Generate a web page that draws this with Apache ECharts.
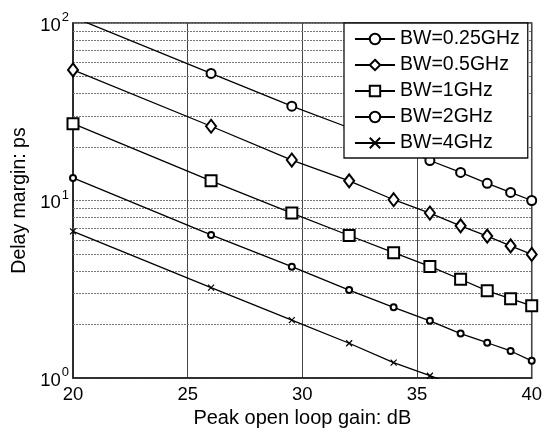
<!DOCTYPE html>
<html>
<head>
<meta charset="utf-8">
<script src="https://cdn.jsdelivr.net/npm/echarts@6/dist/echarts.min.js"></script>
<style>html,body{margin:0;padding:0;background:#fff;}#c{width:545px;height:437px;}</style>
</head>
<body>
<div id="c"></div>
<script>
// Data
var gainDb = [20, 26.02, 29.54, 32.04, 33.98, 35.56, 36.90, 38.06, 39.08, 40];
var seriesNames = ['BW=0.25GHz', 'BW=0.5GHz', 'BW=1GHz', 'BW=2GHz', 'BW=4GHz'];
var bw025 = [108, 52, 34, 25.7, 20.3, 16.8, 14.4, 12.5, 11.1, 10.0];
var bw05  = [54.4, 26.2, 16.9, 12.9, 10.1, 8.5, 7.2, 6.3, 5.55, 4.97];
var bw1   = [27.1, 12.9, 8.5, 6.35, 5.08, 4.25, 3.6, 3.1, 2.8, 2.55];
var bw2   = [13.4, 6.4, 4.24, 3.13, 2.5, 2.1, 1.78, 1.58, 1.42, 1.25];
var bw4   = [6.7, 3.23, 2.12, 1.57, 1.22, 1.03, 0.89, 0.79, 0.71, 0.63];
var minorGrid = [2, 3, 4, 5, 6, 7, 8, 9, 20, 30, 40, 50, 60, 70, 80, 90];
var xTicks = [20, 25, 30, 35, 40];

var FONT = 'Liberation Sans';
function pairs(ys) { return gainDb.map(function (x, i) { return [x, ys[i]]; }); }

var symbols = [
  {symbol: 'emptyCircle', size: 9},
  {symbol: 'emptyDiamond', size: [10, 13]},
  {symbol: 'emptyRect', size: 11},
  {symbol: 'emptyCircle', size: 6},
  {symbol: 'path://M0,0L10,10M10,0L0,10', size: 6}
];
var allData = [bw025, bw05, bw1, bw2, bw4];

var series = allData.map(function (d, i) {
  return {
    name: seriesNames[i],
    type: 'line',
    data: pairs(d),
    clip: true,
    symbol: symbols[i].symbol,
    symbolSize: symbols[i].size,
    showAllSymbol: true,
    lineStyle: {color: '#000', width: 1.3},
    itemStyle: {color: '#000', borderColor: '#000', borderWidth: 1.2},
    emphasis: {disabled: true},
    animation: false,
    z: 3
  };
});
series[0].markLine = {
  silent: true,
  symbol: 'none',
  label: {show: false},
  lineStyle: {color: '#777', type: [2, 1], width: 1},
  data: minorGrid.map(function (v) { return {yAxis: v}; }),
  animation: false,
  z: 1
};

var chart = echarts.init(document.getElementById('c'), null, {renderer: 'canvas'});
chart.setOption({
  backgroundColor: '#fff',
  animation: false,
  textStyle: {fontFamily: FONT},
  grid: {left: 73, right: 9, top: 23, bottom: 59, show: true, borderColor: '#222', borderWidth: 1.5, backgroundColor: 'transparent'},
  legend: {
    data: seriesNames,
    orient: 'vertical',
    left: 344,
    top: 23,
    width: 187,
    padding: [6, 8, 5, 10],
    itemGap: 6,
    itemWidth: 40,
    itemHeight: 13,
    borderColor: '#111',
    borderWidth: 1.3,
    borderRadius: 0,
    backgroundColor: '#fff',
    textStyle: {fontFamily: FONT, fontSize: 19.5, color: '#000'},
    selectedMode: false,
    z: 10
  },
  xAxis: {
    type: 'value',
    min: 20, max: 40, interval: 5,
    name: 'Peak open loop gain: dB',
    nameLocation: 'middle',
    nameGap: 30,
    nameTextStyle: {fontFamily: FONT, fontSize: 20, color: '#000'},
    axisLine: {show: true, lineStyle: {color: '#222', width: 1.5}},
    axisTick: {show: false},
    axisLabel: {fontFamily: FONT, fontSize: 18.5, color: '#000', margin: 7,
      formatter: function (v) { return xTicks.indexOf(v) >= 0 ? String(v) : ''; }},
    splitLine: {show: true, lineStyle: {color: '#444', width: 1, type: 'solid'}}
  },
  yAxis: {
    type: 'log',
    logBase: 10,
    min: 1, max: 100,
    name: 'Delay margin: ps',
    nameLocation: 'middle',
    nameGap: 35,
    nameTextStyle: {fontFamily: FONT, fontSize: 19.5, color: '#000'},
    axisLine: {show: true, lineStyle: {color: '#222', width: 1.5}},
    axisTick: {show: false},
    axisLabel: {
      margin: 4,
      formatter: function (v) {
        var e = Math.round(Math.log(v) / Math.LN10);
        return '{b|10}{s|' + e + '}';
      },
      rich: {
        b: {fontFamily: FONT, fontSize: 18.5, color: '#000', lineHeight: 24, verticalAlign: 'bottom'},
        s: {fontFamily: FONT, fontSize: 13, color: '#000', lineHeight: 14, verticalAlign: 'top', padding: [0, 0, 0, 1]}
      }
    },
    splitLine: {show: true, lineStyle: {color: '#777', width: 1, type: [2, 1]}}
  },
  series: series
});
</script>
</body>
</html>
